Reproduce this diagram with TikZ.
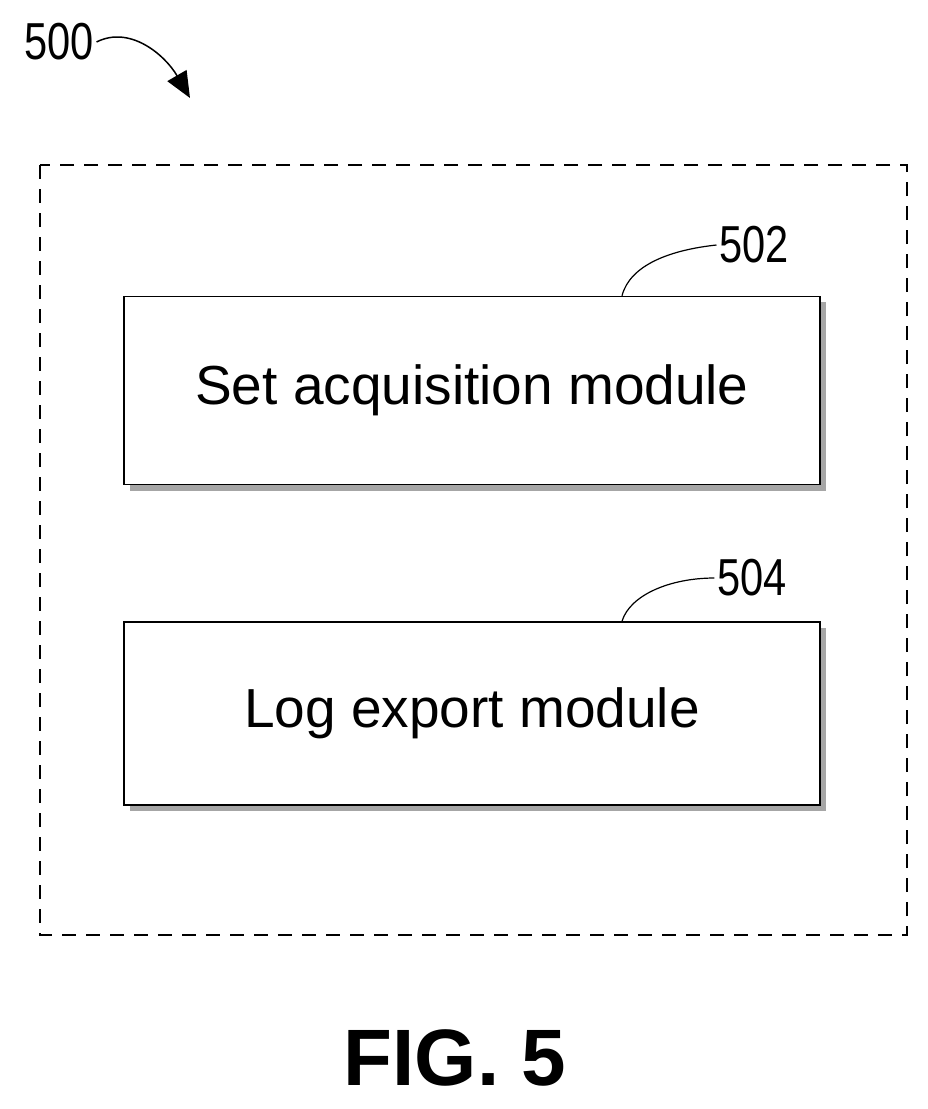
\documentclass[tikz,border=0pt]{standalone}
\usepackage{fontspec}
\setmainfont{Liberation Sans}
\usetikzlibrary{arrows.meta}
\begin{document}
\begin{tikzpicture}[x=1pt,y=-1pt,
  mod/.style={draw,line width=1.5pt,fill=white,minimum width=696pt,minimum height=188pt,font=\fontsize{55}{60}\selectfont},
  shadow/.style={fill=gray!70},
  ref/.style={font=\fontsize{52}{56}\selectfont,xscale=0.8},
  lead/.style={line width=1.2pt}]
\useasboundingbox (0,0) rectangle (928,1109);
\fill[white] (0,0) rectangle (928,1109);
\node[ref] (l500) at (59,42) {500};
\draw[line width=1.5pt,-{Triangle[length=26pt,width=22pt]}] (l500.east) .. controls (130,25) and (165,55) .. (190,98) coordinate (a500);
\draw[dashed,line width=1.5pt,dash pattern=on 14pt off 10pt] (40,165) rectangle (907,935);
\fill[shadow] (130,302) rectangle (826,491);
\node[mod] (m502) at (472,390.5) {Set acquisition module};
\fill[shadow] (130,628) rectangle (826,811);
\node[mod,minimum height=183pt] (m504) at (472,713.5) {Log export module};
\node[ref] (l502) at (754,245) {502};
\node[ref] (l504) at (752,578) {504};
\draw[lead] (m502.north)++(150,0) coordinate (c502) .. controls (630,265) and (670,250) .. (l502.west);
\draw[lead] (m504.north)++(150,0) coordinate (c504) .. controls (630,595) and (670,578) .. (l504.west);
\node[font=\bfseries\fontsize{80}{88}\selectfont] (fig) at (455,1058) {FIG. 5};
\end{tikzpicture}
\end{document}
